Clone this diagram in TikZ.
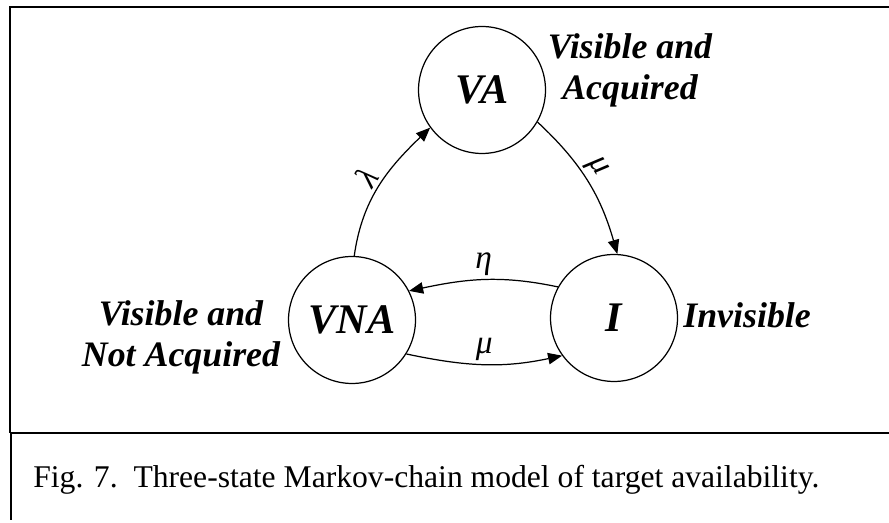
\documentclass[tikz,border=0pt]{standalone}
\usepackage{fontspec}
\setmainfont{Liberation Serif}
\usetikzlibrary{arrows.meta}

\begin{document}
\begin{tikzpicture}[x=0.02cm,y=0.02cm,
		state/.style={circle,draw,line width=0.7pt,minimum size=2.54cm,inner sep=0pt,font=\fontsize{24}{28}\selectfont\bfseries\itshape},
		desc/.style={align=center,inner sep=0pt,font=\fontsize{20.4}{23.5}\selectfont\bfseries\itshape},
		trans/.style={line width=0.7pt,-{Triangle[length=8pt,width=6.5pt]}},
		rate/.style={font=\fontsize{19}{22}\selectfont\itshape,inner sep=2pt}]
		\useasboundingbox (0,0) rectangle (889,523);
		\draw[line width=1.2pt] (889,516) -- (10,516) -- (10,90);
		\draw[line width=0.9pt] (10,90) -- (889,90);
		\draw[line width=1.1pt] (11,90) -- (11,3);
		\node[state] (VA) at (482,433) {VA};
		\node[state] (VNA) at (352,203) {VNA};
		\node[state] (I) at (614,205) {I};
		\node[desc,anchor=base] (vaTxt) at (630,423) {Visible and\\Acquired};
		\node[desc,anchor=base] (vnaTxt) at (181,156) {Visible and\\Not Acquired};
		\node[desc,anchor=base west] (iTxt) at (683,195) {Invisible};
		\draw[trans] (VNA.88) to[out=82,in=224] node[rate,sloped,above,pos=0.5] (lam) {λ} (VA.216);
		\draw[trans] (VA.-30) to[out=-43,in=106] node[rate,sloped,above,pos=0.45] (muTop) {μ} (I.87);
		\draw[trans] (I.151) to[out=168,in=12] node[rate,above,pos=0.5] (eta) {η} (VNA.27);
		\draw[trans] (VNA.-32) to[out=-12,in=192] node[rate,above,pos=0.5] (muBot) {μ} (I.216);
		\node[anchor=base west,inner sep=0pt,font=\fontsize{18}{21}\selectfont] (cap) at (33,35) {Fig. 7.\ \ Three-state Markov-chain model of target availability.};
	\end{tikzpicture}
\end{document}
